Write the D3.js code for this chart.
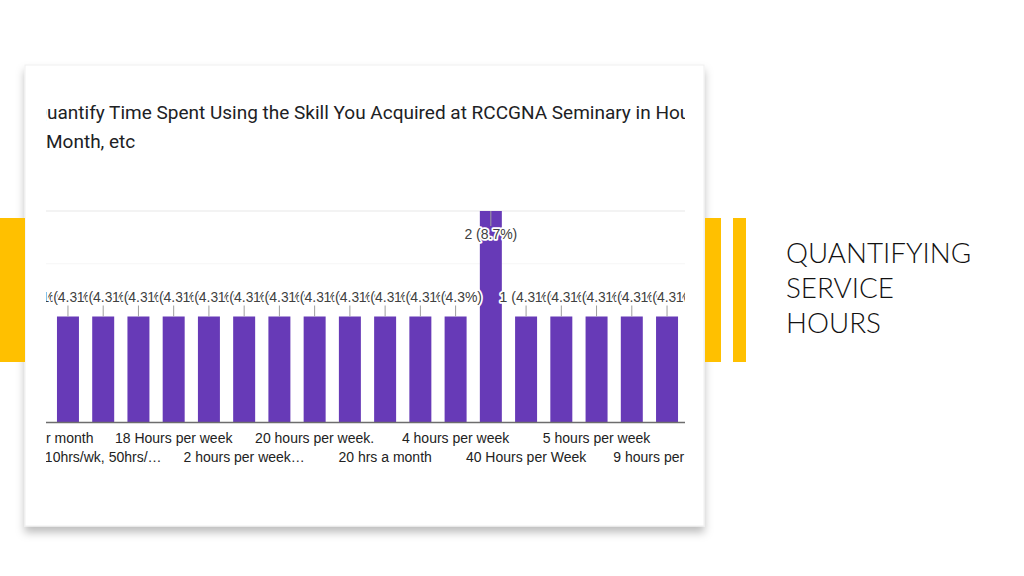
<!DOCTYPE html>
<html>
<head>
<meta charset="utf-8">
<script src="https://cdn.jsdelivr.net/npm/d3@7"></script>
<style>
  html, body { margin: 0; padding: 0; background: #ffffff; }
  svg { display: block; }
</style>
</head>
<body>
<svg id="slide" width="1024" height="576"></svg>
<script>
// ---------------- data ----------------
const titleLines = ["Quantify Time Spent Using the Skill You Acquired at RCCGNA Seminary in Hours per Week,", "Month, etc"];
const slideTitle = ["QUANTIFYING", "SERVICE", "HOURS"];
const tickLabels = [
  "10 hours per month", "", "10hrs/wk, 50hrs/…", "", "18 Hours per week", "",
  "2 hours per week…", "", "20 hours per week.", "", "20 hrs a month", "",
  "4 hours per week", "", "40 Hours per Week", "", "5 hours per week", "",
  "9 hours per week", ""
];
const values = [1, 1, 1, 1, 1, 1, 1, 1, 1, 1, 1, 1, 1, 2, 1, 1, 1, 1, 1, 1];
const totalResponses = 23;
const yTicks = [1.5, 2];

// ---------------- drawing ----------------
const svg = d3.select("#slide");
const defs = svg.append("defs");

const shadow = defs.append("filter").attr("id", "shadow")
  .attr("x", "-5%").attr("y", "-5%").attr("width", "110%").attr("height", "115%");
shadow.append("feDropShadow").attr("dx", 0).attr("dy", 6).attr("stdDeviation", 4)
  .attr("flood-color", "#000").attr("flood-opacity", 0.26);

defs.append("clipPath").attr("id", "chartClip").append("rect")
  .attr("x", 46).attr("y", 190).attr("width", 639).attr("height", 290);
defs.append("clipPath").attr("id", "titleClip").append("rect")
  .attr("x", 46).attr("y", 90).attr("width", 639).attr("height", 70);

// card
svg.append("rect").attr("x", 25).attr("y", 65).attr("width", 679).attr("height", 461)
  .attr("fill", "#ffffff").attr("stroke", "#efefef").attr("stroke-width", 1)
  .attr("filter", "url(#shadow)");

// yellow accents
const accent = "#FFC000";
svg.append("rect").attr("x", 0).attr("y", 218).attr("width", 25).attr("height", 144).attr("fill", accent);
svg.append("rect").attr("x", 705).attr("y", 218).attr("width", 16).attr("height", 144).attr("fill", accent);
svg.append("rect").attr("x", 733).attr("y", 218).attr("width", 13).attr("height", 144).attr("fill", accent);

// slide title
svg.append("g").selectAll("text").data(slideTitle).join("text")
  .attr("x", 786).attr("y", (d, i) => 263 + i * 35)
  .attr("font-family", "Lato, 'Open Sans', sans-serif").attr("font-weight", 300)
  .attr("font-size", 27.8).attr("fill", "#111").text(d => d);

// chart title (clipped, as in the screenshot)
const tg = svg.append("g").attr("clip-path", "url(#titleClip)");
const t1 = tg.append("text").attr("y", 119)
  .attr("font-family", "Roboto, sans-serif").attr("font-size", 19).attr("fill", "#202124")
  .text(titleLines[0]);
t1.attr("x", 0);
const qW = t1.node().getSubStringLength(0, 1);
t1.attr("x", 47 - qW);
tg.append("text").attr("x", 46).attr("y", 148)
  .attr("font-family", "Roboto, sans-serif").attr("font-size", 19).attr("fill", "#202124")
  .text(titleLines[1]);

// chart
const g = svg.append("g").attr("clip-path", "url(#chartClip)");
const idx = d3.range(values.length);
const x = d3.scaleBand().domain(idx).range([15.1, 719.9]).paddingInner(0.376).paddingOuter(0.188);
const y = d3.scaleLinear().domain([0, 2]).range([422, 211]);

g.selectAll("line.grid").data(yTicks).join("line").attr("class", "grid")
  .attr("x1", 0).attr("x2", 700).attr("y1", d => y(d)).attr("y2", d => y(d))
  .attr("stroke", (d, i) => i === yTicks.length - 1 ? "#e8e8e8" : "#f6f6f6").attr("stroke-width", 1.2);

g.selectAll("rect.bar").data(idx).join("rect").attr("class", "bar")
  .attr("x", i => x(i)).attr("width", x.bandwidth())
  .attr("y", i => y(values[i])).attr("height", i => y(0) - y(values[i]))
  .attr("fill", "#673AB7");

g.append("line").attr("x1", 0).attr("x2", 700).attr("y1", y(0) + 0.5).attr("y2", y(0) + 0.5)
  .attr("stroke", "#6d6d6d").attr("stroke-width", 1.3);

const maxV = d3.max(values);
function labelY(v) { return v === maxV ? y(v) + 28 : y(v) - 15; }
g.selectAll("line.stem").data(idx).join("line").attr("class", "stem")
  .attr("x1", i => x(i) + x.bandwidth() / 2).attr("x2", i => x(i) + x.bandwidth() / 2)
  .attr("y1", i => values[i] === maxV ? y(values[i]) : y(values[i]) - 11)
  .attr("y2", i => values[i] === maxV ? y(values[i]) + 15 : y(values[i]))
  .attr("stroke", "#9e9e9e").attr("stroke-width", 1);

g.selectAll("text.lab").data(idx).join("text").attr("class", "lab")
  .attr("x", i => x(i) + x.bandwidth() / 2).attr("y", i => labelY(values[i]))
  .attr("text-anchor", "middle")
  .attr("font-family", "'Liberation Sans', Arial, sans-serif").attr("font-size", 14)
  .attr("fill", "#404040").attr("stroke", "#ffffff").attr("stroke-width", 3.5)
  .attr("stroke-linejoin", "round").attr("paint-order", "stroke")
  .text(i => `${values[i]} (${(values[i] / totalResponses * 100).toFixed(1)}%)`);

const axis = d3.axisBottom(x).tickSize(0).tickPadding(0).tickFormat(i => tickLabels[i]);
const ax = g.append("g").attr("transform", `translate(0,${y(0)})`).call(axis);
ax.select(".domain").remove();
ax.selectAll("text")
  .attr("font-family", "'Liberation Sans', Arial, sans-serif").attr("font-size", 14)
  .attr("fill", "#222").attr("dy", null)
  .attr("y", (d, k) => (Math.floor(d / 2) % 2 === 0) ? 21 : 40);
</script>
</body>
</html>
